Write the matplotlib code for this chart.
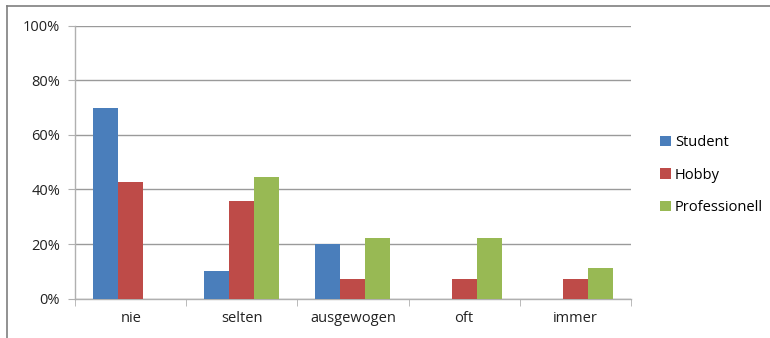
import matplotlib.pyplot as plt
import numpy as np
from matplotlib.lines import Line2D

plt.rcParams['font.family'] = ['Open Sans', 'DejaVu Sans']

categories = ['nie', 'selten', 'ausgewogen', 'oft', 'immer']
student = [70, 10, 20, 0, 0]
hobby = [42.9, 35.7, 7.1, 7.1, 7.1]
professionell = [0, 44.4, 22.2, 22.2, 11.1]
series_names = ['Student', 'Hobby', 'Professionell']
colors = ['#4A7EBB', '#BE4B48', '#98B954']

fig = plt.figure(figsize=(7.7, 3.38), dpi=100)
ax = fig.add_axes([0.0978, 0.1163, 0.7212, 0.8077])

x = np.arange(len(categories))
w = 0.225
for i, (vals, name, c) in enumerate(zip([student, hobby, professionell], series_names, colors)):
    ax.bar(x + (i - 1) * w, vals, width=w, color=c, label=name, zorder=3)

ax.set_xlim(-0.5, len(categories) - 0.5)
ax.set_ylim(0, 100)
ax.set_yticks(range(0, 101, 20))
ax.set_yticklabels([f'{v}%' for v in range(0, 101, 20)], fontsize=10.5, color='#222222')
ax.yaxis.grid(True, color='#9A9A9A', linewidth=1.0, zorder=0)

ax.set_xticks(x)
ax.set_xticklabels(categories, fontsize=10.5, color='#222222')
ax.tick_params(axis='x', length=0, pad=9)
ax.set_xticks(np.arange(-0.5, len(categories)), minor=True)
ax.tick_params(axis='x', which='minor', length=5, color='#B0B0B0', direction='out')
ax.tick_params(axis='y', length=5, color='#B0B0B0', pad=6)

for side in ['top', 'right']:
    ax.spines[side].set_visible(False)
for side in ['left', 'bottom']:
    ax.spines[side].set_color('#B0B0B0')
    ax.spines[side].set_linewidth(1.0)

ax.legend(loc='center left', bbox_to_anchor=(1.03, 0.453), frameon=False, fontsize=10.5,
          handlelength=0.7, handleheight=0.7, handletextpad=0.3, labelspacing=1.2)

# outer chart frame
fig.add_artist(Line2D([0.009, 1.0], [0.981, 0.981], transform=fig.transFigure,
                      color='#7F7F7F', linewidth=1.2))
fig.add_artist(Line2D([0.009, 0.009], [0.0, 0.981], transform=fig.transFigure,
                      color='#7F7F7F', linewidth=1.2))

fig.savefig('out.png', dpi=100)
